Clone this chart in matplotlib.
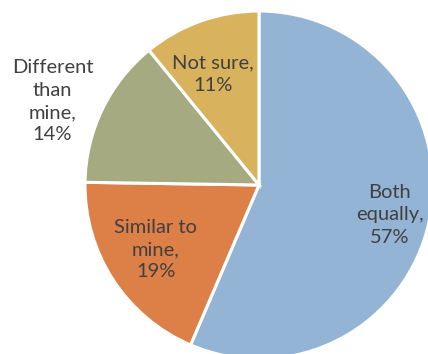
import matplotlib.pyplot as plt
import numpy as np

# data
labels = ['Both\nequally,\n57%', 'Similar to\nmine,\n19%', 'Different\nthan\nmine,\n14%', 'Not sure,\n11%']
values = [57, 19, 14, 11]
colors = ['#93B4D4', '#DD8047', '#A5AA80', '#D8B25C']

# label placement (fraction of radius, extra angle in degrees)
lab_r = [0.77, 0.70, 1.28, 0.69]
lab_da = [-1.3, -1.0, 3.8, 3.1]

fig = plt.figure(figsize=(4.28, 3.54), dpi=100)
ax = fig.add_axes([0.1986, -0.0141, 0.813, 0.983])

wedges, _ = ax.pie(values, colors=colors, startangle=90, counterclock=False,
                   radius=1, wedgeprops=dict(edgecolor='white', linewidth=2.2))

for w, lab, r, da in zip(wedges, labels, lab_r, lab_da):
    mid = np.deg2rad((w.theta1 + w.theta2) / 2 + da)
    ax.text(r * np.cos(mid), r * np.sin(mid), lab, ha='center', va='center',
            fontsize=14.5, color='#404040', family='Lato', linespacing=1.38)

ax.set_xlim(-1, 1)
ax.set_ylim(-1, 1)
ax.set_aspect('equal')
ax.axis('off')

fig.savefig('out.png', dpi=100)
